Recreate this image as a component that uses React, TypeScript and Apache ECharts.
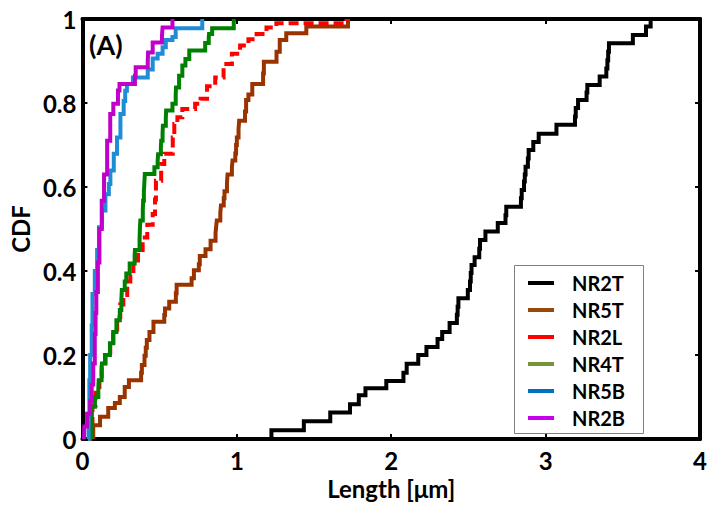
import React, { useEffect, useRef } from 'react';
import * as echarts from 'echarts';

// [length (µm), CDF] step points
const nr2t: number[][] = [
  [1.224, 0], [1.224, 0.021], [1.434, 0.042], [1.605, 0.063], [1.733, 0.083], [1.79, 0.104],
  [1.833, 0.121], [1.968, 0.138], [2.079, 0.158], [2.1, 0.179], [2.175, 0.2], [2.228, 0.219],
  [2.3, 0.238], [2.33, 0.255], [2.378, 0.276], [2.425, 0.296], [2.43, 0.315], [2.435, 0.335],
  [2.496, 0.355], [2.51, 0.375], [2.515, 0.395], [2.52, 0.414], [2.54, 0.433], [2.57, 0.453],
  [2.575, 0.474], [2.61, 0.494], [2.69, 0.514], [2.74, 0.533], [2.745, 0.553], [2.84, 0.573],
  [2.845, 0.593], [2.86, 0.613], [2.865, 0.63], [2.87, 0.648], [2.885, 0.668], [2.89, 0.688],
  [2.92, 0.707], [2.955, 0.727], [3.07, 0.748], [3.19, 0.768], [3.195, 0.788], [3.21, 0.807],
  [3.265, 0.825], [3.27, 0.843], [3.35, 0.863], [3.393, 0.882], [3.4, 0.902], [3.405, 0.922],
  [3.41, 0.942], [3.565, 0.962], [3.65, 0.982], [3.68, 1.0]
];

const nr5t: number[][] = [
  [0.07, 0], [0.07, 0.033], [0.114, 0.053], [0.167, 0.074], [0.21, 0.086], [0.242, 0.1],
  [0.274, 0.124], [0.301, 0.14], [0.38, 0.158], [0.385, 0.176], [0.402, 0.198], [0.41, 0.217],
  [0.417, 0.236], [0.434, 0.255], [0.46, 0.279], [0.53, 0.295], [0.535, 0.311], [0.562, 0.327],
  [0.605, 0.347], [0.61, 0.367], [0.707, 0.383], [0.722, 0.402], [0.754, 0.416], [0.76, 0.436],
  [0.797, 0.452], [0.83, 0.472], [0.862, 0.49], [0.866, 0.505], [0.87, 0.52], [0.893, 0.538],
  [0.897, 0.556], [0.915, 0.573], [0.92, 0.59], [0.936, 0.61], [0.94, 0.63], [0.968, 0.647],
  [0.972, 0.663], [0.99, 0.68], [0.995, 0.7], [1.0, 0.718], [1.011, 0.738], [1.015, 0.758],
  [1.053, 0.78], [1.06, 0.807], [1.075, 0.82], [1.1, 0.845], [1.17, 0.87], [1.175, 0.898],
  [1.257, 0.922], [1.278, 0.95], [1.32, 0.966], [1.45, 0.982], [1.72, 1.0]
];

const nr2l: number[][] = [
  [0.045, 0], [0.05, 0.04], [0.065, 0.08], [0.085, 0.11], [0.11, 0.15], [0.125, 0.17],
  [0.15, 0.2], [0.18, 0.23], [0.2, 0.26], [0.225, 0.29], [0.245, 0.32], [0.265, 0.343],
  [0.29, 0.375], [0.31, 0.4], [0.33, 0.425], [0.36, 0.45], [0.39, 0.48], [0.42, 0.51],
  [0.455, 0.536], [0.47, 0.57], [0.476, 0.615], [0.51, 0.655], [0.53, 0.679], [0.585, 0.718],
  [0.595, 0.75], [0.615, 0.766], [0.647, 0.786], [0.73, 0.798], [0.765, 0.81], [0.807, 0.84],
  [0.86, 0.861], [0.914, 0.893], [0.968, 0.917], [1.021, 0.937], [1.075, 0.952], [1.128, 0.964],
  [1.192, 0.98], [1.256, 0.99], [1.71, 1.0]
];

const nr4t: number[][] = [
  [0.06, 0], [0.06, 0.04], [0.062, 0.077], [0.081, 0.1], [0.103, 0.12], [0.105, 0.14],
  [0.124, 0.16], [0.126, 0.18], [0.146, 0.2], [0.178, 0.228], [0.199, 0.255], [0.22, 0.283],
  [0.242, 0.307], [0.252, 0.33], [0.255, 0.355], [0.274, 0.375], [0.284, 0.394], [0.306, 0.418],
  [0.338, 0.435], [0.34, 0.45], [0.37, 0.475], [0.372, 0.5], [0.375, 0.52], [0.391, 0.545],
  [0.393, 0.567], [0.398, 0.59], [0.401, 0.61], [0.404, 0.631], [0.466, 0.647], [0.487, 0.662],
  [0.49, 0.678], [0.508, 0.694], [0.51, 0.71], [0.519, 0.728], [0.521, 0.746], [0.54, 0.764],
  [0.542, 0.782], [0.583, 0.798], [0.604, 0.818], [0.606, 0.837], [0.626, 0.865], [0.647, 0.889],
  [0.667, 0.905], [0.692, 0.925], [0.795, 0.943], [0.818, 0.955], [0.82, 0.964], [0.84, 0.978],
  [0.98, 1.0]
];

const nr5b: number[][] = [
  [0.035, 0], [0.04, 0.06], [0.045, 0.14], [0.05, 0.2], [0.06, 0.27], [0.065, 0.345],
  [0.08, 0.4], [0.095, 0.45], [0.107, 0.504], [0.127, 0.544], [0.149, 0.583], [0.171, 0.607],
  [0.181, 0.639], [0.203, 0.679], [0.224, 0.718], [0.246, 0.774], [0.267, 0.805], [0.277, 0.829],
  [0.288, 0.845], [0.327, 0.861], [0.423, 0.88], [0.455, 0.906], [0.487, 0.917], [0.519, 0.933],
  [0.54, 0.95], [0.583, 0.957], [0.604, 0.978], [0.776, 1.0]
];

const nr2b: number[][] = [
  [0.01, 0], [0.012, 0.03], [0.03, 0.06], [0.05, 0.09], [0.06, 0.13], [0.07, 0.18],
  [0.08, 0.25], [0.085, 0.3], [0.09, 0.35], [0.1, 0.42], [0.11, 0.5], [0.125, 0.567],
  [0.14, 0.63], [0.16, 0.71], [0.18, 0.774], [0.2, 0.798], [0.23, 0.83], [0.24, 0.845],
  [0.34, 0.865], [0.345, 0.885], [0.423, 0.9], [0.425, 0.92], [0.455, 0.944], [0.515, 0.96],
  [0.519, 0.98], [0.583, 1.0]
];

const seriesNames = ['NR2T', 'NR5T', 'NR2L', 'NR4T', 'NR5B', 'NR2B'];
const seriesData = [nr2t, nr5t, nr2l, nr4t, nr5b, nr2b];
const lineColors = ['#000000', '#993300', '#ff0000', '#008000', '#1f8dd6', '#c000c8'];
const legendColors = ['#000000', '#984807', '#ff0000', '#77933c', '#0070c0', '#c800f0'];
const xTicks = [0, 1, 2, 3, 4];
const yTicks = [0, 0.2, 0.4, 0.6, 0.8, 1];

const FONT = 'Lato, "Open Sans", sans-serif';

export default function App() {
  const ref = useRef<HTMLDivElement>(null);
  useEffect(() => {
    const chart = echarts.init(ref.current!, null, { renderer: 'svg' });
    const axisLine = { show: true, onZero: false, lineStyle: { color: '#000', width: 4 } };
    const tick = { show: true, inside: true, length: 5, lineStyle: { color: '#000', width: 2 } };
    const labelStyle = { color: '#000', fontFamily: FONT, fontWeight: 'bold' as const, fontSize: 24 };
    const option: any = {
      animation: false,
      backgroundColor: '#fff',
      grid: { left: 79, top: 19, width: 624, height: 420 },
      xAxis: [
        {
          type: 'value', min: xTicks[0], max: xTicks[xTicks.length - 1], interval: 1, position: 'bottom',
          axisLine, axisTick: tick, splitLine: { show: false },
          axisLabel: { ...labelStyle, margin: 9 },
          name: 'Length [μm]', nameLocation: 'middle', nameGap: 27,
          nameTextStyle: { ...labelStyle, fontSize: 24 }
        },
        {
          type: 'value', min: 0, max: 4, interval: 1, position: 'top',
          axisLine, axisTick: tick, splitLine: { show: false }, axisLabel: { show: false }
        }
      ],
      yAxis: [
        {
          type: 'value', min: yTicks[0], max: yTicks[yTicks.length - 1], interval: 0.2, position: 'left',
          axisLine, axisTick: tick, splitLine: { show: false },
          axisLabel: { ...labelStyle, margin: 6 },
          name: 'CDF', nameLocation: 'middle', nameGap: 45, nameRotate: 90,
          nameTextStyle: { ...labelStyle, fontSize: 24 }
        },
        {
          type: 'value', min: 0, max: 1, interval: 0.2, position: 'right',
          axisLine, axisTick: tick, splitLine: { show: false }, axisLabel: { show: false }
        }
      ],
      legend: {
        orient: 'vertical', left: 528, top: 273, padding: 0, itemGap: 7,
        itemWidth: 26, itemHeight: 4, icon: 'rect', selectedMode: false, z: 6,
        textStyle: { color: '#000', fontFamily: FONT, fontWeight: 'bold', fontSize: 20, lineHeight: 18, padding: [0, 0, 0, 13] },
        data: seriesNames.map((n, i) => ({ name: n, itemStyle: { color: legendColors[i] } }))
      },
      graphic: [
        {
          type: 'rect', z: 5, shape: { x: 514.5, y: 265.5, width: 129, height: 168 },
          style: { fill: '#fff', stroke: '#808080', lineWidth: 1 }
        },
        {
          type: 'text', z: 5, left: 89, top: 31,
          style: { text: '(A)', fill: '#000', font: `bold 27px ${FONT}` }
        }
      ],
      series: seriesNames.map((n, i) => ({
        type: 'line', name: n, data: seriesData[i], step: 'end', symbol: 'none', showSymbol: false,
        color: lineColors[i], xAxisIndex: 0, yAxisIndex: 0,
        lineStyle: {
          color: lineColors[i], width: 4,
          type: n === 'NR2L' ? [10, 5] : 'solid', cap: 'butt', join: 'miter'
        }
      }))
    };
    chart.setOption(option);
    return () => chart.dispose();
  }, []);
  return <div ref={ref} style={{ position: 'fixed', left: 0, top: 0, width: 710, height: 506 }} />;
}
